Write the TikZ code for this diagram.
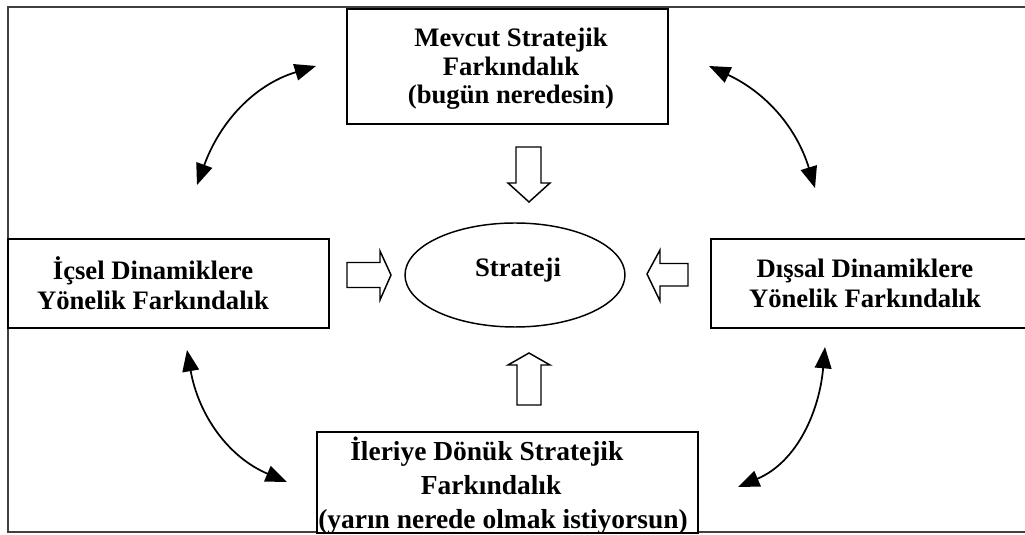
\documentclass[tikz,border=0pt]{standalone}
\usepackage{fontspec}
\setmainfont{Liberation Serif}
\usetikzlibrary{arrows.meta,shapes.geometric}
\begin{document}
\begin{tikzpicture}[x=0.75pt,y=0.75pt,
  frame/.style={draw=black!75, line width=0.9pt},
  box/.style={draw, line width=1.4pt, inner sep=0pt, fill=white},
  lbl/.style={font=\bfseries\fontsize{20}{21.4}\selectfont, align=center, inner sep=0pt},
  hollow/.style={draw, line width=1.1pt, line join=miter, fill=white},
  link/.style={line width=1.3pt, {Triangle[length=16pt,width=12.5pt]}-{Triangle[length=16pt,width=12.5pt]}},
]
\useasboundingbox (0,0) rectangle (1025,535);
\clip (0,0) rectangle (1025,535);
\fill[white] (0,0) rectangle (1025,535);
% open outer frame
\draw[frame] (1030,528) -- (8,528) -- (8,3) -- (1030,3);

% boxes
\node[box, minimum width=240.75pt, minimum height=86.25pt] (cur) at (507.5,468.5) {};
\node[box, minimum width=240.75pt, minimum height=66.75pt] (inner) at (168.5,251.5) {};
\node[box, minimum width=246.75pt, minimum height=66.75pt] (outer) at (875.5,251.5) {};
\node[box, minimum width=285.75pt, minimum height=75.75pt] (future) at (507.5,52.5) {};
\node[draw, line width=1.1pt, ellipse, inner sep=0pt, minimum width=165pt, minimum height=78pt] (strat) at (515,260) {};

% texts
\node[lbl] (curT) at (511,466) {Mevcut Stratejik\\Farkındalık\\(bugün neredesin)};
\node[lbl, font=\bfseries\fontsize{20}{22.5}\selectfont] (innerT) at (153,252) {İçsel Dinamiklere\\Yönelik Farkındalık};
\node[lbl, font=\bfseries\fontsize{20}{22.5}\selectfont] (outerT) at (865,252) {Dışsal Dinamiklere\\Yönelik Farkındalık};
\node[lbl, align=left, anchor=west, font=\bfseries\fontsize{20.6}{25.5}\selectfont] (futureT) at (318,49)
  {\hspace*{24pt}İleriye Dönük Stratejik\\\hspace*{77pt}Farkındalık\\(yarın nerede olmak istiyorsun)};
\node[lbl] (stratT) at (518,265) {Strateji};

% hollow block arrows toward the centre
\draw[hollow] (516,388) -- (541,388) -- (541,352) -- (550,352) -- (529,333) -- (508,352) -- (516,352) -- cycle;
\draw[hollow] (347,272.5) -- (380,272.5) -- (380,284) -- (391,260) -- (380,235) -- (380,247.5) -- (347,247.5) -- cycle;
\draw[hollow] (688,271.5) -- (660,271.5) -- (660,285) -- (647,261) -- (660,234) -- (660,249) -- (688,249) -- cycle;
\draw[hollow] (517,130) -- (541,130) -- (541,170) -- (550,170) -- (529,182) -- (508,170) -- (517,170) -- cycle;

% curved two-way links between the outer boxes
\coordinate (tlA) at (197,350); \coordinate (tlB) at (316,469);
\coordinate (trA) at (815,347); \coordinate (trB) at (709,469);
\coordinate (blA) at (187,185); \coordinate (blB) at (287,53);
\coordinate (brA) at (825,188); \coordinate (brB) at (738,48);
\draw[link] (tlA) to[out=70,in=197] (tlB);
\draw[link] (trA) to[out=107,in=-25] (trB);
\draw[link] (blA) to[out=-80,in=157] (blB);
\draw[link] (brA) to[out=-95,in=23] (brB);
\end{tikzpicture}
\end{document}
